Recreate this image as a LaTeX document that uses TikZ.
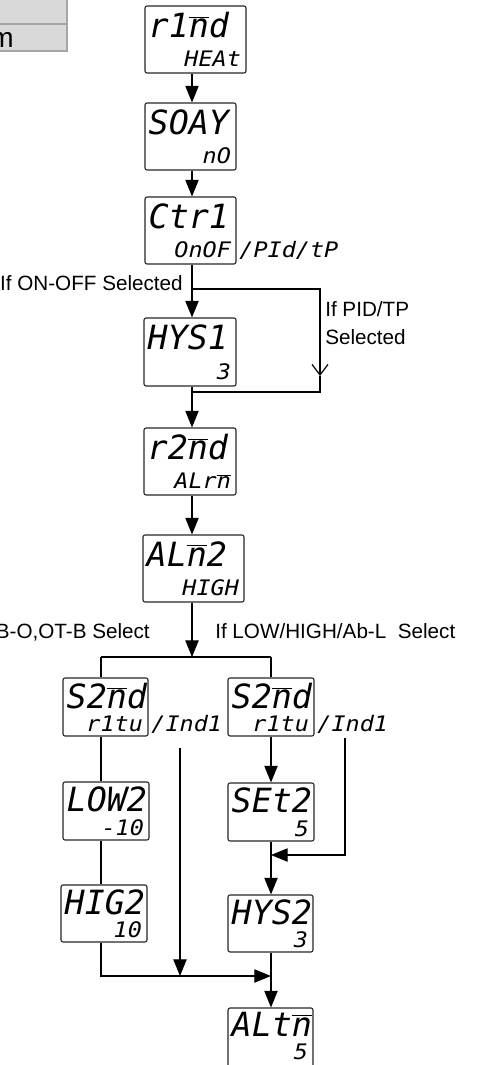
\documentclass[tikz,border=0pt]{standalone}
\usepackage{fontspec}
\usepackage{graphicx}
\setmainfont{Liberation Sans}
\newfontfamily\segfont{DejaVu Sans Mono}
\usetikzlibrary{arrows.meta,positioning,calc}
\definecolor{cellfill}{HTML}{D9D9D9}
\definecolor{cellline}{HTML}{A6A6A6}
\newcommand{\segm}{\ensuremath{\overline{\mbox{n}}}}
\newcommand{\bigseg}[1]{{\segfont\itshape\fontsize{25}{25}\selectfont #1}}
\newcommand{\smallseg}[1]{\scalebox{1.1}[1]{\segfont\itshape\fontsize{16}{16}\selectfont #1}}
\tikzset{
    disp/.style 2 args={draw=black!85,rounded corners=1.5pt,line width=0.8pt,inner sep=0pt,
        minimum width=#1*0.75pt,minimum height=#2*0.75pt},
    topseg/.style={anchor=north west,inner sep=0pt},
    botseg/.style={anchor=base east,inner sep=0pt},
    sideseg/.style={anchor=base west,inner sep=0pt},
    note/.style={inner sep=0pt,font=\fontsize{15.5}{21}\selectfont,align=left},
    wire/.style={line width=0.9pt},
    flow/.style={wire,-{Triangle[length=12.5pt,width=10pt]}},
    open/.style={wire,-{Straight Barb[length=8pt,width=12pt]}},
}

\begin{document}
\begin{tikzpicture}[x=0.75pt,y=-0.75pt]
    \useasboundingbox (0,0) rectangle (478,1065);
    % table corner
    \draw[cellline,fill=cellfill,line width=0.8pt] (-2,-2) rectangle (67,24);
    \draw[cellline,fill=cellfill,line width=0.8pt] (-2,24) rectangle (67,51);
    \node[anchor=base east,inner sep=0pt,font=\fontsize{21}{21}\selectfont] (cellm) at (14,47) {m};

    % main column
    \node[disp={101}{67}] (rind) at (195.5,39.5) {};
    \node[disp={91}{67}] (soay) at (190.5,136.5) {};
    \node[disp={91}{67}] (ctr) at (190.5,230.5) {};
    \node[disp={92}{68}] (hys1) at (190,352) {};
    \node[disp={92}{67}] (rtwo) at (190,461.5) {};
    \node[disp={101}{67}] (alm) at (193.5,568.5) {};

    \node[topseg] (rindt) at ([xshift=3pt,yshift=-5pt]rind.north west) {\bigseg{r1\segm d}};
    \node[botseg] (rindb) at ([xshift=-4pt,yshift=5pt]rind.south east) {\smallseg{HEAt}};
    \node[topseg] (soayt) at ([xshift=3pt,yshift=-5pt]soay.north west) {\bigseg{SOAY}};
    \node[botseg] (soayb) at ([xshift=-4pt,yshift=5pt]soay.south east) {\smallseg{nO}};
    \node[topseg] (ctrt) at ([xshift=3pt,yshift=-5pt]ctr.north west) {\bigseg{Ctr1}};
    \node[botseg] (ctrb) at ([xshift=-4pt,yshift=5pt]ctr.south east) {\smallseg{OnOF}};
    \node[sideseg] (ctrs) at ([xshift=2pt,yshift=5pt]ctr.south east) {\smallseg{/PId/tP}};
    \node[topseg] (hys1t) at ([xshift=3pt,yshift=-5pt]hys1.north west) {\bigseg{HYS1}};
    \node[botseg] (hys1b) at ([xshift=-4pt,yshift=5pt]hys1.south east) {\smallseg{3}};
    \node[topseg] (rtwot) at ([xshift=3pt,yshift=-5pt]rtwo.north west) {\bigseg{r2\segm d}};
    \node[botseg] (rtwob) at ([xshift=-4pt,yshift=5pt]rtwo.south east) {\smallseg{ALr\segm}};
    \node[topseg] (almt) at ([xshift=3pt,yshift=-5pt]alm.north west) {\bigseg{AL\segm 2}};
    \node[botseg] (almb) at ([xshift=-4pt,yshift=5pt]alm.south east) {\smallseg{HIGH}};

    \node[note,anchor=base east] (onoff) at (183,290) {If ON-OFF Selected};
    \node[note,anchor=north west] (pidtp) at (325,301) {If PID/TP\\Selected};
    \node[note,anchor=base east] (leftsel) at (150,638) {B-O,OT-B Select};
    \node[note,anchor=base west] (rightsel) at (215,638) {If LOW/HIGH/Ab-L\ \ Select};

    % two branches
    \node[disp={85}{58}] (sl) at (105.5,707) {};
    \node[disp={86}{58}] (low) at (106,811) {};
    \node[disp={86}{57}] (hig) at (104,913.5) {};
    \node[disp={86}{58}] (sr) at (271,707) {};
    \node[disp={86}{58}] (set) at (271,812) {};
    \node[disp={85}{57}] (hys2) at (270.5,923.5) {};
    \node[disp={85}{62}] (alt) at (270.5,1039) {};

    \node[topseg] (slt) at ([xshift=3pt,yshift=-4pt]sl.north west) {\bigseg{S2\segm d}};
    \node[botseg] (slb) at ([xshift=-4pt,yshift=4pt]sl.south east) {\smallseg{r1tu}};
    \node[sideseg] (sls) at ([xshift=2pt,yshift=4pt]sl.south east) {\smallseg{/Ind1}};
    \node[topseg] (lowt) at ([xshift=3pt,yshift=-4pt]low.north west) {\bigseg{LOW2}};
    \node[botseg] (lowb) at ([xshift=-4pt,yshift=4pt]low.south east) {\smallseg{-10}};
    \node[topseg] (higt) at ([xshift=3pt,yshift=-4pt]hig.north west) {\bigseg{HIG2}};
    \node[botseg] (higb) at ([xshift=-4pt,yshift=4pt]hig.south east) {\smallseg{10}};
    \node[topseg] (srt) at ([xshift=3pt,yshift=-4pt]sr.north west) {\bigseg{S2\segm d}};
    \node[botseg] (srb) at ([xshift=-4pt,yshift=4pt]sr.south east) {\smallseg{r1tu}};
    \node[sideseg] (srs) at ([xshift=2pt,yshift=4pt]sr.south east) {\smallseg{/Ind1}};
    \node[topseg] (sett) at ([xshift=3pt,yshift=-4pt]set.north west) {\bigseg{SEt2}};
    \node[botseg] (setb) at ([xshift=-4pt,yshift=4pt]set.south east) {\smallseg{5}};
    \node[topseg] (hys2t) at ([xshift=3pt,yshift=-4pt]hys2.north west) {\bigseg{HYS2}};
    \node[botseg] (hys2b) at ([xshift=-4pt,yshift=4pt]hys2.south east) {\smallseg{3}};
    \node[topseg] (altt) at ([xshift=3pt,yshift=-3pt]alt.north west) {\bigseg{ALt\segm}};
    \node[botseg] (altb) at ([xshift=-4pt,yshift=8.5pt]alt.south east) {\smallseg{5}};

    % connectors
    \coordinate (axis) at (192,0);
    \coordinate (split1) at (192,289);
    \coordinate (pidturn) at (320,289);
    \coordinate (pidtip) at (320,376);
    \coordinate (merge1) at (320,392);
    \coordinate (join1) at (192,392);
    \coordinate (split2) at (192,657);
    \coordinate (bl) at (101,657);
    \coordinate (br) at (271,657);
    \coordinate (indl) at (180,748);
    \coordinate (indr) at (345,738);
    \coordinate (joinr) at (271,855);
    \coordinate (joinb) at (271,976);

    \draw[flow] (rind.south -| axis) -- (soay.north -| axis);
    \draw[flow] (soay.south -| axis) -- (ctr.north -| axis);
    \draw[wire] (ctr.south -| axis) -- (split1);
    \draw[flow] (split1) -- (hys1.north -| axis);
    \draw[open] (split1) -- (pidturn) -- (pidtip);
    \draw[wire] (pidtip) -- (merge1) -- (join1);
    \draw[wire] (hys1.south -| axis) -- (join1);
    \draw[flow] (join1) -- (rtwo.north -| axis);
    \draw[flow] (rtwo.south -| axis) -- (alm.north -| axis);
    \draw[flow] (alm.south -| axis) -- (split2);
    \draw[wire] (bl) -- (br);

    \draw[wire] (bl) -- (bl |- sl.north);
    \draw[wire] (bl |- sl.south) -- (bl |- low.north);
    \draw[wire] (bl |- low.south) -- (bl |- hig.north);
    \draw[flow] (bl |- hig.south) |- (joinb);
    \draw[flow] (indl) -- (indl |- joinb);

    \draw[wire] (br) -- (br |- sr.north);
    \draw[flow] (br |- sr.south) -- (br |- set.north);
    \draw[wire] (br |- set.south) -- (joinr);
    \draw[flow] (indr) |- (joinr);
    \draw[flow] (joinr) -- (br |- hys2.north);
    \draw[wire] (br |- hys2.south) -- (joinb);
    \draw[flow] (joinb) -- (br |- alt.north);
\end{tikzpicture}
\end{document}
